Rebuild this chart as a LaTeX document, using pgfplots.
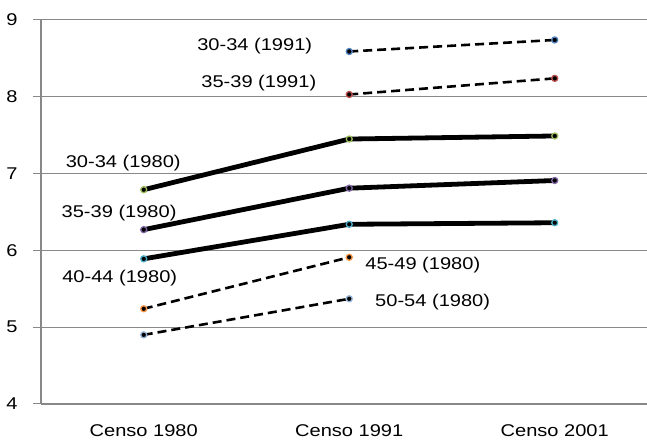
\documentclass[border=0pt]{standalone}
\usepackage{pgfplots}
\pgfplotsset{compat=1.18}
\usepackage{fontspec}
\setmainfont[FakeStretch=1.18]{Liberation Sans}
\definecolor{cA}{HTML}{9BBB59}
\definecolor{cB}{HTML}{8064A2}
\definecolor{cC}{HTML}{4BACC6}
\definecolor{cD}{HTML}{F79646}
\definecolor{cE}{HTML}{95B3D7}
\definecolor{cF}{HTML}{4F81BD}
\definecolor{cG}{HTML}{C0504D}
\definecolor{gridc}{HTML}{888888}
\tikzset{lbl/.style={font=\fontsize{17}{20}\selectfont, inner sep=0pt}}
\begin{document}
\begin{tikzpicture}
\useasboundingbox (0,0) rectangle (647pt,443pt);
\begin{axis}[
  at={(41pt,39pt)}, anchor=south west,
  scale only axis, width=606pt, height=384pt,
  xmin=-0.5, xmax=2.449, ymin=4, ymax=9,
  axis lines=left, axis line style={-, draw=gridc, line width=1.2pt},
  ymajorgrids, grid style={gridc, line width=1pt},
  ytick={4,5,6,7,8,9}, xtick={0,1,2},
  xticklabels={Censo 1980,Censo 1991,Censo 2001},
  x tick style={draw=none}, y tick style={gridc, line width=1pt},
  tick align=outside, major tick length=8pt,
  /pgf/number format/assume math mode=true,
  tick label style={font=\fontsize{17}{20}\selectfont, black},
  yticklabel style={xshift=-12pt},
  xticklabel style={yshift=-9pt},
  clip=false,
]
% solid series
\addplot[black, line width=4.8pt, mark=*, mark size=3pt, mark options={fill=black, draw=cA, line width=1.3pt}]
  coordinates {(0,6.79) (1,7.45) (2,7.49)};
\addplot[black, line width=4.8pt, mark=*, mark size=3pt, mark options={fill=black, draw=cB, line width=1.3pt}]
  coordinates {(0,6.27) (1,6.81) (2,6.91)};
\addplot[black, line width=4.8pt, mark=*, mark size=3pt, mark options={fill=black, draw=cC, line width=1.3pt}]
  coordinates {(0,5.89) (1,6.34) (2,6.36)};
% dashed series
\addplot[black, line width=2.6pt, dash pattern=on 9pt off 5pt, mark=*, mark size=3pt, mark options={solid, fill=black, draw=cD, line width=1.3pt}]
  coordinates {(0,5.24) (1,5.91)};
\addplot[black, line width=2.6pt, dash pattern=on 9pt off 5pt, mark=*, mark size=3pt, mark options={solid, fill=black, draw=cE, line width=1.3pt}]
  coordinates {(0,4.90) (1,5.37)};
\addplot[black, line width=2.6pt, dash pattern=on 9pt off 5pt, mark=*, mark size=3pt, mark options={solid, fill=black, draw=cF, line width=1.3pt}]
  coordinates {(1,8.59) (2,8.74)};
\addplot[black, line width=2.6pt, dash pattern=on 9pt off 5pt, mark=*, mark size=3pt, mark options={solid, fill=black, draw=cG, line width=1.3pt}]
  coordinates {(1,8.03) (2,8.24)};
% labels
\node[lbl] at (axis cs:0.54,8.66) {30-34 (1991)};
\node[lbl] at (axis cs:0.56,8.18) {35-39 (1991)};
\node[lbl] at (axis cs:-0.10,7.14) {30-34 (1980)};
\node[lbl] at (axis cs:-0.12,6.48) {35-39 (1980)};
\node[lbl] at (axis cs:-0.117,5.64) {40-44 (1980)};
\node[lbl] at (axis cs:1.358,5.81) {45-49 (1980)};
\node[lbl] at (axis cs:1.406,5.33) {50-54 (1980)};
\end{axis}
\end{tikzpicture}
\end{document}
